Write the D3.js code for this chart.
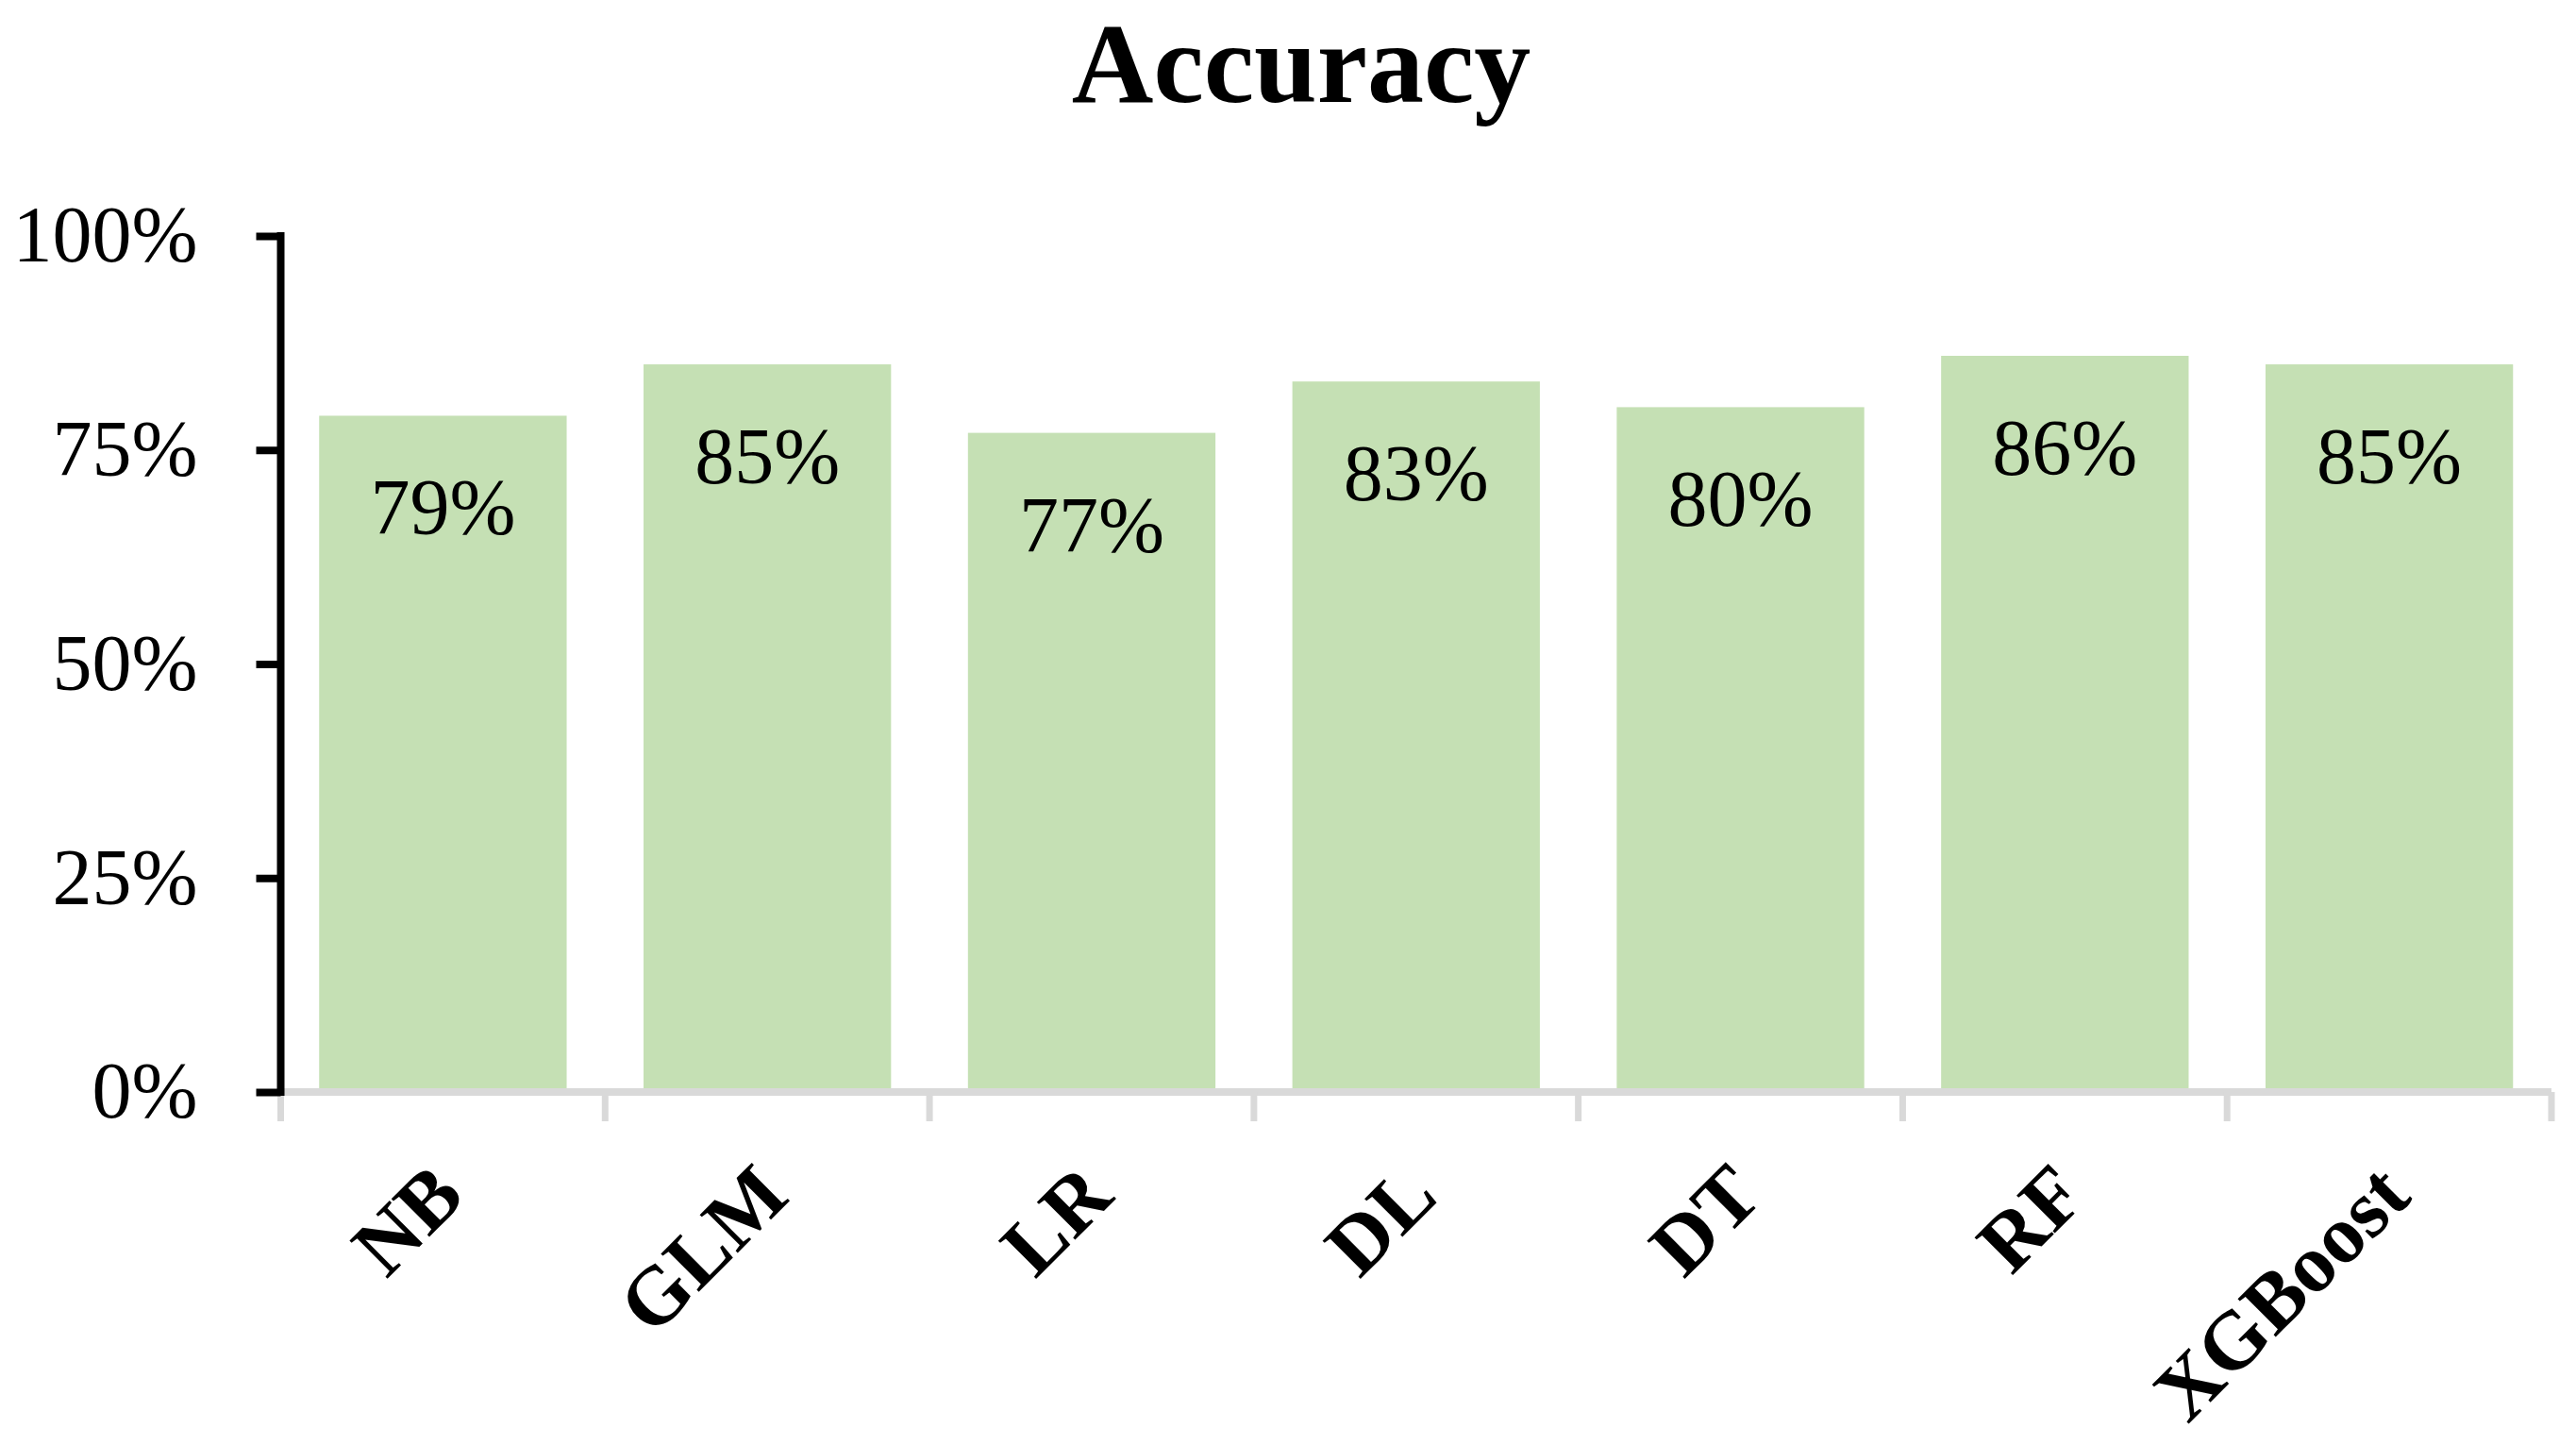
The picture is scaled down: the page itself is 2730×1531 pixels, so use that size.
<!DOCTYPE html>
<html>
<head>
<meta charset="utf-8">
<script src="https://cdn.jsdelivr.net/npm/d3@7"></script>
<style>
  body { margin: 0; background: #fff; }
  text { font-family: "Palatino Linotype", "Book Antiqua", Palatino, "Liberation Serif", serif; }
</style>
</head>
<body>
<script>
// chart data
var models = ["NB", "GLM", "LR", "DL", "DT", "RF", "XGBoost"];
var accuracy = [0.79, 0.85, 0.77, 0.83, 0.80, 0.86, 0.85];
var yTicks = [0, 0.25, 0.5, 0.75, 1];

var width = 2730,
    height = 1531;

var svg = d3.select("body").append("svg")
    .attr("width", width)
    .attr("height", height);

var x = d3.scaleBand()
    .domain(models)
    .range([297.5, 2704])
    .paddingInner(0.237)
    .paddingOuter(0.1185);

var y = d3.scaleLinear()
    .domain([0, 1])
    .range([1157, 250]);

var pct = d3.format(".0%");

// title
svg.append("text")
    .attr("x", 1379)
    .attr("y", 108)
    .attr("text-anchor", "middle")
    .style("font-size", "120px")
    .style("font-weight", "bold")
    .text("Accuracy");

// bars
var data = models.map(function(m, i){ return {name: m, value: accuracy[i]}; });

svg.selectAll("rect.bar")
    .data(data)
  .enter().append("rect")
    .attr("class", "bar")
    .attr("x", function(d){ return x(d.name); })
    .attr("width", x.bandwidth())
    .attr("y", function(d){ return y(d.value); })
    .attr("height", function(d){ return y(0) - y(d.value); })
    .attr("fill", "#c5e0b4");

// value labels, inside end
svg.selectAll("text.val")
    .data(data)
  .enter().append("text")
    .attr("class", "val")
    .attr("x", function(d){ return x(d.name) + x.bandwidth() / 2; })
    .attr("y", function(d){ return y(d.value) + 126; })
    .attr("text-anchor", "middle")
    .style("font-size", "84px")
    .text(function(d){ return pct(d.value); });

// gray category axis with boundary ticks
var gap = (x.step() - x.bandwidth()) / 2;
var bounds = models.map(function(m){ return x(m) - gap; }).concat([x.range()[1]]);

svg.append("line")
    .attr("x1", x.range()[0]).attr("x2", x.range()[1])
    .attr("y1", y(0)).attr("y2", y(0))
    .attr("stroke", "#d9d9d9")
    .attr("stroke-width", 8);

svg.selectAll("line.xtick")
    .data(bounds)
  .enter().append("line")
    .attr("class", "xtick")
    .attr("x1", function(d){ return d; }).attr("x2", function(d){ return d; })
    .attr("y1", y(0)).attr("y2", y(0) + 31)
    .attr("stroke", "#d9d9d9")
    .attr("stroke-width", 7);

// category labels, rotated
var xAxis = svg.append("g")
    .attr("transform", "translate(0," + y(0) + ")")
    .call(d3.axisBottom(x).tickSize(0).tickSizeOuter(0));
xAxis.select(".domain").remove();
xAxis.selectAll("text")
    .attr("y", 0)
    .attr("dy", "0.35em")
    .attr("transform", "translate(4,92) rotate(-45)")
    .attr("text-anchor", "end")
    .style("font-size", "87px")
    .style("font-weight", "bold")
    .attr("fill", "#000");

// value axis
var yAxis = svg.append("g")
    .attr("transform", "translate(297.5,0)")
    .call(d3.axisLeft(y).tickValues(yTicks).tickFormat(pct).tickSizeInner(26).tickSizeOuter(0).tickPadding(62));
yAxis.select(".domain")
    .attr("stroke", "#000")
    .attr("stroke-width", 8)
    .attr("d", "M0," + (y(1) - 4) + "V" + (y(0) + 4));
yAxis.selectAll(".tick line")
    .attr("stroke", "#000")
    .attr("stroke-width", 8);
yAxis.selectAll(".tick text")
    .attr("dy", "0.32em")
    .attr("fill", "#000")
    .style("font-size", "84px");
</script>
</body>
</html>
